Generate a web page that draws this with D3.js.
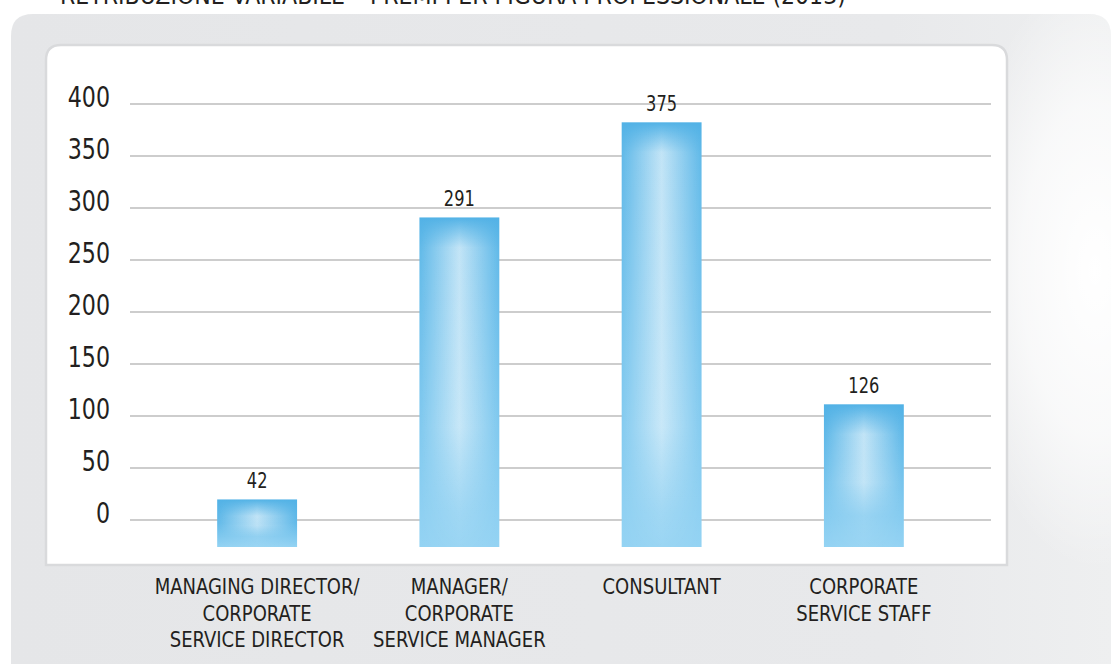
<!DOCTYPE html>
<html>
<head>
<meta charset="utf-8">
<script src="https://cdn.jsdelivr.net/npm/d3@7"></script>
<style>
  html, body { margin: 0; padding: 0; background: #ffffff; overflow: hidden; }
  svg { display: block; }
  text { font-family: "Liberation Sans Narrow", "DejaVu Sans Condensed", "Liberation Sans", sans-serif; fill: #231f20; }
</style>
</head>
<body>
<svg id="chart" width="1111" height="664"></svg>
<script>
const titleText = "RETRIBUZIONE VARIABILE – PREMI PER FIGURA PROFESSIONALE (2013)";
const categories = ["MANAGING DIRECTOR/ CORPORATE SERVICE DIRECTOR", "MANAGER/ CORPORATE SERVICE MANAGER", "CONSULTANT", "CORPORATE SERVICE STAFF"];
const categoryLines = [
  ["MANAGING DIRECTOR/", "CORPORATE", "SERVICE DIRECTOR"],
  ["MANAGER/", "CORPORATE", "SERVICE MANAGER"],
  ["CONSULTANT"],
  ["CORPORATE", "SERVICE STAFF"]
];
const values = [42, 291, 375, 126];
const tickValues = [0, 50, 100, 150, 200, 250, 300, 350, 400];

const svg = d3.select("#chart");
const defs = svg.append("defs");

// background panel gradient
const bgGrad = defs.append("linearGradient").attr("id", "bgGrad").attr("x1", 0).attr("x2", 1).attr("y1", 0).attr("y2", 0);
bgGrad.append("stop").attr("offset", "0%").attr("stop-color", "#e5e6e8");
bgGrad.append("stop").attr("offset", "80%").attr("stop-color", "#e8e9eb");
bgGrad.append("stop").attr("offset", "100%").attr("stop-color", "#eeeff0");
const glow = defs.append("radialGradient").attr("id", "glow")
  .attr("gradientUnits", "userSpaceOnUse").attr("cx", 1095).attr("cy", 270).attr("r", 300)
  .attr("gradientTransform", "translate(1095,270) scale(0.45,1) translate(-1095,-270)");
glow.append("stop").attr("offset", "0%").attr("stop-color", "#ffffff").attr("stop-opacity", 1);
glow.append("stop").attr("offset", "55%").attr("stop-color", "#ffffff").attr("stop-opacity", 0.65);
glow.append("stop").attr("offset", "100%").attr("stop-color", "#ffffff").attr("stop-opacity", 0);

// title (cut off at top, as in the reference)
svg.append("text").attr("font-size", 24.5)
  .attr("transform", "translate(60,4)").text(titleText);

// gray outer panel with rounded top corners
function topRounded(x0, y0, x1, y1, r) {
  return `M${x0},${y1} L${x0},${y0 + r} Q${x0},${y0} ${x0 + r},${y0} L${x1 - r},${y0} Q${x1},${y0} ${x1},${y0 + r} L${x1},${y1} Z`;
}
svg.append("path").attr("d", topRounded(11, 14, 1111, 700, 22)).attr("fill", "url(#bgGrad)");
svg.append("path").attr("d", topRounded(11, 14, 1111, 700, 22)).attr("fill", "url(#glow)");

// white inner panel
svg.append("path").attr("d", topRounded(46, 45, 1007, 565, 15))
  .attr("fill", "#ffffff").attr("stroke", "#d9dadc").attr("stroke-width", 2.5);

// scales
const x = d3.scaleBand().domain(categories).range([156, 965]).paddingInner(0.605).paddingOuter(0.3025);
const y = d3.scaleLinear().domain([0, 400]).range([520, 104]);
const yBar = d3.scaleLinear().domain([0, 400]).range([547, 94]);

// gridlines
svg.append("g").selectAll("line").data(tickValues).join("line")
  .attr("x1", 130).attr("x2", 991)
  .attr("y1", d => y(d)).attr("y2", d => y(d))
  .attr("stroke", "#bcbcbc").attr("stroke-width", 1.6);

// y axis tick labels
const yAxis = svg.append("g").attr("transform", "translate(110,0)")
  .call(d3.axisLeft(y).tickValues(tickValues).tickSize(0).tickPadding(0).tickFormat(d3.format("d")));
yAxis.select(".domain").remove();
yAxis.selectAll("text")
  .attr("font-family", "'Liberation Sans Narrow', 'DejaVu Sans Condensed', sans-serif")
  .attr("font-size", 28).attr("fill", "#231f20").attr("dy", null).attr("x", 0).attr("y", 0)
  .attr("text-anchor", "end")
  .attr("transform", "translate(0,2) scale(0.88,1)");

// bar gradients
const data = categories.map((c, i) => ({ c, v: values[i], i }));
data.forEach(d => {
  const top = yBar(d.v), bot = yBar(0), h = bot - top;
  const vg = defs.append("linearGradient").attr("id", "vg" + d.i)
    .attr("gradientUnits", "userSpaceOnUse").attr("x1", 0).attr("x2", 0).attr("y1", top).attr("y2", bot);
  vg.append("stop").attr("offset", 0).attr("stop-color", "#52b2e6");
  vg.append("stop").attr("offset", Math.min(0.5, 35 / h)).attr("stop-color", "#62bae9");
  vg.append("stop").attr("offset", 1).attr("stop-color", "#94d3f3");

  const mg = defs.append("linearGradient").attr("id", "mg" + d.i)
    .attr("gradientUnits", "userSpaceOnUse").attr("x1", 0).attr("x2", 0).attr("y1", top).attr("y2", bot);
  mg.append("stop").attr("offset", 0).attr("stop-color", "#000");
  mg.append("stop").attr("offset", Math.min(0.35, 30 / h)).attr("stop-color", "#fff");
  mg.append("stop").attr("offset", Math.max(0.55, 1 - 120 / h)).attr("stop-color", "#e6e6e6");
  mg.append("stop").attr("offset", Math.max(0.78, 1 - 35 / h)).attr("stop-color", "#444");
  mg.append("stop").attr("offset", 1).attr("stop-color", "#1a1a1a");
  defs.append("mask").attr("id", "mask" + d.i).attr("maskUnits", "userSpaceOnUse")
    .append("rect").attr("x", x(d.c)).attr("y", top).attr("width", x.bandwidth()).attr("height", h)
    .attr("fill", `url(#mg${d.i})`);
});
const hg = defs.append("linearGradient").attr("id", "hg").attr("x1", 0).attr("x2", 1).attr("y1", 0).attr("y2", 0);
hg.append("stop").attr("offset", "0%").attr("stop-color", "#fff").attr("stop-opacity", 0);
hg.append("stop").attr("offset", "18%").attr("stop-color", "#fff").attr("stop-opacity", 0.22);
hg.append("stop").attr("offset", "50%").attr("stop-color", "#fff").attr("stop-opacity", 0.62);
hg.append("stop").attr("offset", "82%").attr("stop-color", "#fff").attr("stop-opacity", 0.22);
hg.append("stop").attr("offset", "100%").attr("stop-color", "#fff").attr("stop-opacity", 0);

// bars
const bars = svg.append("g");
bars.selectAll("rect.base").data(data).join("rect").attr("class", "base")
  .attr("x", d => x(d.c)).attr("width", x.bandwidth())
  .attr("y", d => yBar(d.v)).attr("height", d => yBar(0) - yBar(d.v))
  .attr("fill", d => `url(#vg${d.i})`);
bars.selectAll("rect.hl").data(data).join("rect").attr("class", "hl")
  .attr("x", d => x(d.c)).attr("width", x.bandwidth())
  .attr("y", d => yBar(d.v)).attr("height", d => yBar(0) - yBar(d.v))
  .attr("fill", "url(#hg)").attr("mask", d => `url(#mask${d.i})`);

// value labels
svg.append("g").selectAll("text").data(data).join("text")
  .attr("transform", d => `translate(${x(d.c) + x.bandwidth() / 2},${yBar(d.v) - 11.5}) scale(0.86,1)`)
  .attr("text-anchor", "middle").attr("font-size", 21).text(d => d.v);

// category labels
const catG = svg.append("g").selectAll("text").data(data).join("text")
  .attr("text-anchor", "middle").attr("font-size", 22)
  .attr("transform", d => `translate(${x(d.c) + x.bandwidth() / 2},594) scale(0.91,1)`);
catG.selectAll("tspan").data(d => categoryLines[d.i]).join("tspan")
  .attr("x", 0).attr("y", (t, j) => j * 26.7).text(t => t);
</script>
</body>
</html>
